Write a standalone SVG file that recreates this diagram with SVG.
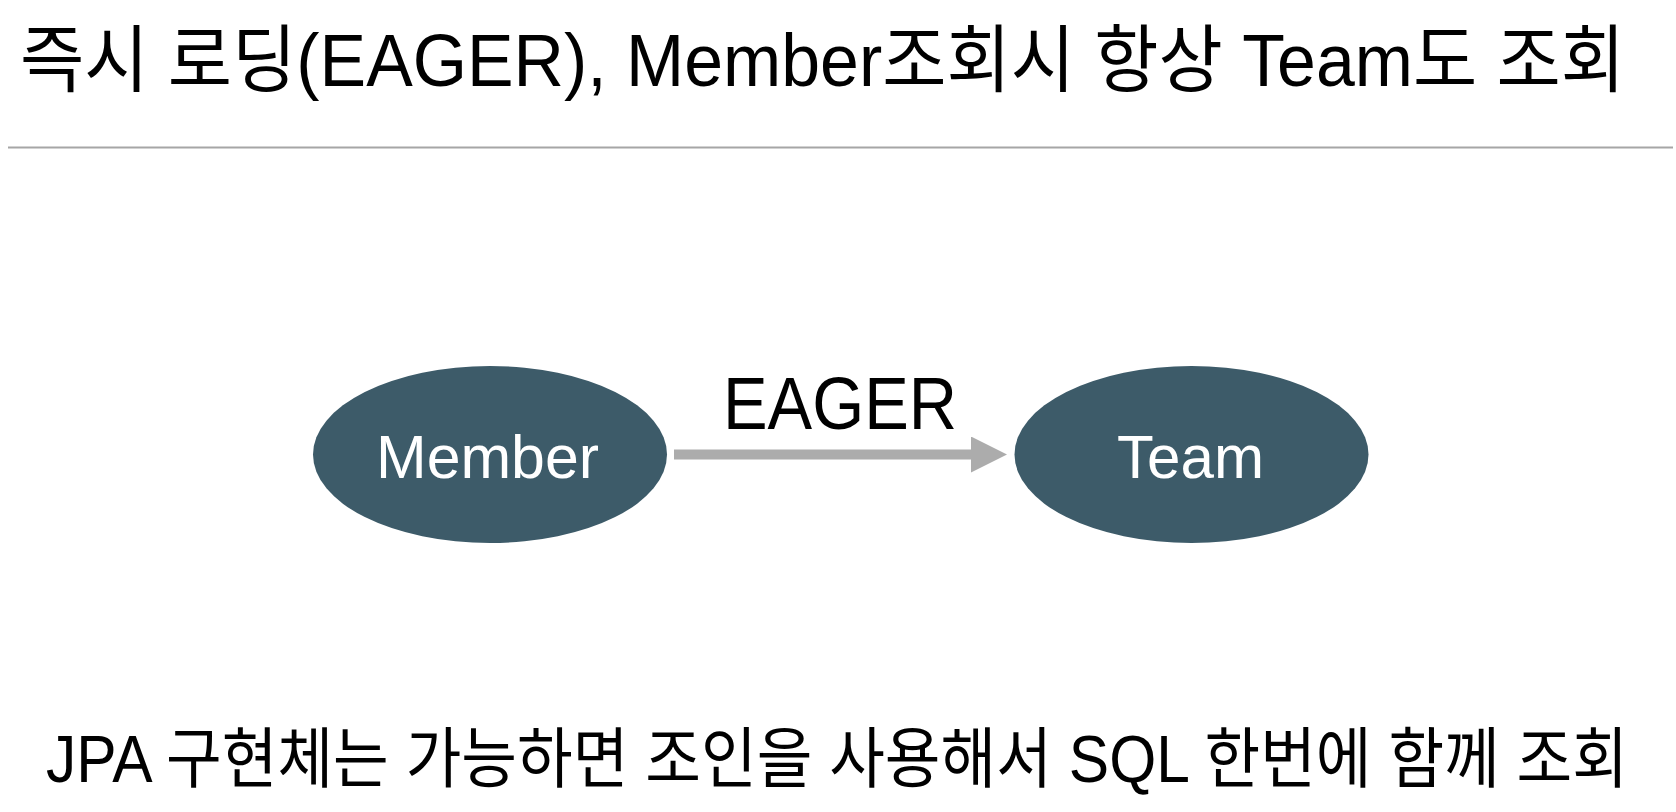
<svg xmlns="http://www.w3.org/2000/svg" width="1676" height="812" viewBox="0 0 1676 812">
  <style>
    text { font-family: "Liberation Sans", "Noto Sans CJK KR", sans-serif; }
    .node { fill: #3d5b69; }
    .nlabel { fill: #ffffff; font-size: 61px; }
    .dark { fill: #000000; }
  </style>
  <defs>
    <marker id="arrow" markerUnits="userSpaceOnUse" markerWidth="36" markerHeight="36" refX="0" refY="18" orient="auto">
      <polygon points="0,0 36,18 0,36" fill="#acacac"/>
    </marker>
  </defs>
  <rect width="1676" height="812" fill="#ffffff"/>
  <text class="dark" transform="translate(20,86) scale(1,1.088)" x="0" y="0" font-size="68" textLength="1605" lengthAdjust="spacingAndGlyphs">즉시 로딩(EAGER), Member조회시 항상 Team도 조회</text>
  <line x1="8" y1="147.5" x2="1673" y2="147.5" stroke="#a6a6a6" stroke-width="2"/>
  <g id="connectors">
    <line x1="674" y1="454.5" x2="971" y2="454.5" stroke="#acacac" stroke-width="10" marker-end="url(#arrow)"/>
    <text class="dark" x="723" y="429" font-size="74" textLength="234" lengthAdjust="spacingAndGlyphs">EAGER</text>
  </g>
  <g id="member">
    <ellipse class="node" cx="490" cy="454.5" rx="177" ry="88.5"/>
    <text class="nlabel" x="376" y="478" textLength="223" lengthAdjust="spacingAndGlyphs">Member</text>
  </g>
  <g id="team">
    <ellipse class="node" cx="1191.5" cy="454.5" rx="177" ry="88.5"/>
    <text class="nlabel" x="1117" y="478" textLength="147" lengthAdjust="spacingAndGlyphs">Team</text>
  </g>
  <text class="dark" transform="translate(46,782) scale(1,1.158)" x="0" y="0" font-size="57" textLength="1582" lengthAdjust="spacingAndGlyphs">JPA 구현체는 가능하면 조인을 사용해서 SQL 한번에 함께 조회</text>
</svg>
